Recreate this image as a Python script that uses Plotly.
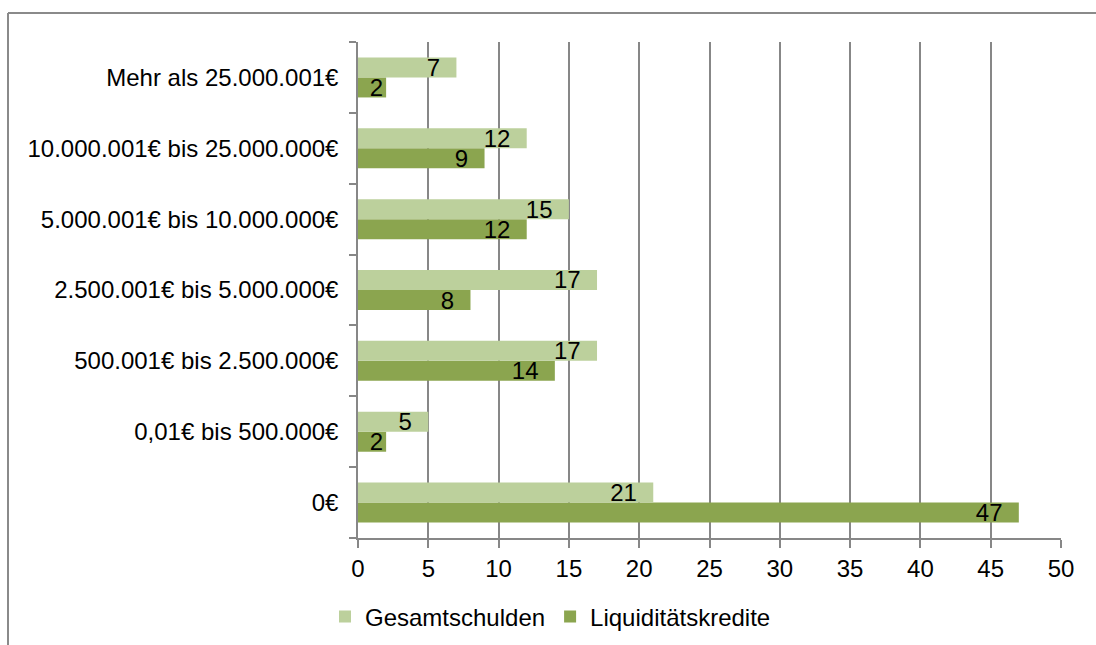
import plotly.graph_objects as go

categories = [
    "0€",
    "0,01€ bis 500.000€",
    "500.001€ bis 2.500.000€",
    "2.500.001€ bis 5.000.000€",
    "5.000.001€ bis 10.000.000€",
    "10.000.001€ bis 25.000.000€",
    "Mehr als 25.000.001€",
]
gesamtschulden = [21, 5, 17, 17, 15, 12, 7]
liquiditaetskredite = [47, 2, 14, 8, 12, 9, 2]
x_ticks = [0, 5, 10, 15, 20, 25, 30, 35, 40, 45, 50]

FONT = "Liberation Sans, Arial, sans-serif"
LIGHT = "#BCD09C"
DARK = "#8BA54F"


def labels(values):
    # inside-end labels with a little right padding (only where the bar is long enough)
    return [f"{v}\u00a0\u00a0" if v >= 4 else f"{v}" for v in values]


fig = go.Figure()
fig.add_trace(go.Bar(
    y=categories, x=liquiditaetskredite, orientation="h",
    name="Liquiditätskredite", marker=dict(color=DARK, line=dict(width=0)),
    text=labels(liquiditaetskredite), textposition="inside", insidetextanchor="end",
    textangle=0, constraintext="none", cliponaxis=False,
    textfont=dict(color="black", size=24, family=FONT), legendrank=2,
    hoverinfo="x+name",
))
fig.add_trace(go.Bar(
    y=categories, x=gesamtschulden, orientation="h",
    name="Gesamtschulden", marker=dict(color=LIGHT, line=dict(width=0)),
    text=labels(gesamtschulden), textposition="inside", insidetextanchor="end",
    textangle=0, constraintext="none", cliponaxis=False,
    textfont=dict(color="black", size=24, family=FONT), legendrank=1,
    hoverinfo="x+name",
))

W, H = 1096, 645
L, R, T, B = 358, 1061, 42, 538

def px_x(p):
    return (p - L) / (R - L)

def px_y(p):
    return (B - p) / (B - T)

fig.update_layout(
    width=W, height=H,
    margin=dict(l=L, r=W - R, t=T, b=H - B, autoexpand=False),
    paper_bgcolor="white", plot_bgcolor="white",
    barmode="group", bargap=0.435, bargroupgap=0,
    font=dict(family=FONT, size=24, color="black"),
    showlegend=True,
    legend=dict(
        orientation="h", x=px_x(325), xanchor="left",
        y=px_y(617), yanchor="middle",
        font=dict(size=24, family=FONT, color="black"),
        traceorder="normal", bgcolor="rgba(0,0,0,0)",
    ),
    xaxis=dict(
        range=[0, 50], tickvals=x_ticks, showgrid=True,
        gridcolor="#878787", gridwidth=1.5,
        showline=True, linecolor="#878787", linewidth=1.5,
        ticks="outside", ticklen=8, tickcolor="#878787", tickwidth=1.5,
        zeroline=False, tickfont=dict(size=24), fixedrange=True,
        automargin=False,
    ),
    yaxis=dict(
        categoryorder="array", categoryarray=categories,
        showline=True, linecolor="#878787", linewidth=1.5,
        ticks="outside", tickson="boundaries", ticklen=7,
        tickcolor="#878787", tickwidth=1.5,
        ticklabelstandoff=13, showgrid=False, tickfont=dict(size=24),
        fixedrange=True, automargin=False,
    ),
    shapes=[
        dict(type="line", xref="paper", yref="paper",
             x0=px_x(8), x1=px_x(8), y0=px_y(13), y1=px_y(660),
             line=dict(color="#8a8a8a", width=2)),
        dict(type="line", xref="paper", yref="paper",
             x0=px_x(8), x1=px_x(1110), y0=px_y(13), y1=px_y(13),
             line=dict(color="#8a8a8a", width=2)),
    ],
)

fig.write_html(
    "out.html", config={"displayModeBar": False},
    post_script="document.body.style.margin='0';document.body.style.overflow='hidden';",
)
